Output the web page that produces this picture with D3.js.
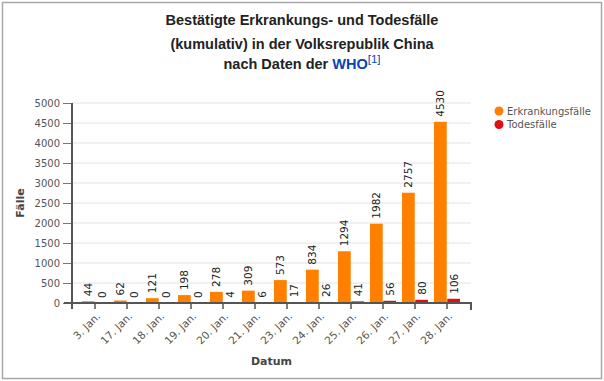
<!DOCTYPE html>
<html>
  <head>
    <meta charset="utf-8">
    <style>
      body { margin: 0; background: #fff; }
      svg text { font-family: "DejaVu Sans", sans-serif; }
    </style>
    <script src="https://unpkg.com/d3@7/dist/d3.min.js"></script>
  </head>
  <body>
    <script>
      // data
      const dates = ['3. Jan.', '17. Jan.', '18. Jan.', '19. Jan.', '20. Jan.', '21. Jan.',
                     '23. Jan.', '24. Jan.', '25. Jan.', '26. Jan.', '27. Jan.', '28. Jan.'];
      const cases = [44, 62, 121, 198, 278, 309, 573, 834, 1294, 1982, 2757, 4530];
      const deaths = [0, 0, 0, 0, 4, 6, 17, 26, 41, 56, 80, 106];
      const seriesNames = ['Erkrankungsfälle', 'Todesfälle'];
      const yTicks = [0, 500, 1000, 1500, 2000, 2500, 3000, 3500, 4000, 4500, 5000];

      const colors = ['#ff8000', '#dd1111'];
      const width = 604, height = 381;
      const axisLeftX = 72, axisRightX = 471;
      const plotTop = 103, plotBottom = 303;

      const svg = d3.select('body').append('svg')
        .attr('width', width).attr('height', height);

      // frame
      svg.append('rect')
        .attr('x', 2.5).attr('y', 2.5)
        .attr('width', 599).attr('height', 376)
        .attr('fill', 'none').attr('stroke', '#a8a8a8').attr('stroke-width', 1.5);

      // title
      const title = svg.append('text')
        .attr('text-anchor', 'middle')
        .style('font-family', '"Liberation Sans", Arial, sans-serif')
        .style('font-weight', 'bold').style('font-size', '14.5px')
        .attr('fill', '#222');
      title.append('tspan').attr('x', 302).attr('y', 25).text('Bestätigte Erkrankungs- und Todesfälle');
      title.append('tspan').attr('x', 302).attr('y', 49).text('(kumulativ) in der Volksrepublik China');
      const l3 = title.append('tspan').attr('x', 302).attr('y', 69);
      l3.append('tspan').text('nach Daten der ');
      l3.append('tspan').attr('fill', '#0645ad').text('WHO');
      l3.append('tspan').attr('fill', '#0645ad').attr('dy', -6)
        .style('font-weight', 'normal').style('font-size', '11.5px').text('[1]');

      const x = d3.scaleBand().domain(dates).range([79, 463]).padding(0);
      const inner = d3.scaleBand().domain(seriesNames).range([3, 29]).paddingInner(0.04);
      const y = d3.scaleLinear().domain([0, 5000]).range([plotBottom, plotTop]);

      // grid
      svg.append('g').selectAll('line').data(yTicks.slice(1)).join('line')
        .attr('x1', axisLeftX).attr('x2', axisRightX)
        .attr('y1', d => y(d)).attr('y2', d => y(d))
        .attr('stroke', '#e2e2e2').attr('stroke-width', 1);

      const groups = svg.append('g').selectAll('g').data(dates).join('g')
        .attr('transform', d => `translate(${x(d)},0)`);

      const rows = dates.map((d, i) => [
        { s: seriesNames[0], v: cases[i], c: colors[0] },
        { s: seriesNames[1], v: deaths[i], c: colors[1] }
      ]);

      groups.each(function (d, i) {
        const g = d3.select(this);
        g.selectAll('rect').data(rows[i]).join('rect')
          .attr('x', r => inner(r.s))
          .attr('width', inner.bandwidth())
          .attr('y', r => y(r.v))
          .attr('height', r => plotBottom - y(r.v))
          .attr('fill', r => r.c);
        g.selectAll('text').data(rows[i]).join('text')
          .attr('transform', r => `translate(${inner(r.s) + inner.bandwidth() / 2 + 4},${y(r.v) - 5}) rotate(-90)`)
          .attr('text-anchor', 'start')
          .style('font-size', '10.5px')
          .attr('fill', '#222')
          .text(r => r.v);
      });

      // y axis
      const yAxis = svg.append('g')
        .attr('transform', `translate(${axisLeftX},0)`)
        .call(d3.axisLeft(y).tickValues(yTicks).tickFormat(d3.format('d'))
          .tickSize(9).tickSizeOuter(0).tickPadding(3));
      yAxis.select('.domain').remove();
      yAxis.append('line').attr('x1', 0).attr('x2', 0).attr('y1', plotTop).attr('y2', plotBottom + 6)
        .attr('stroke', '#555').attr('stroke-width', 2);
      yAxis.selectAll('.tick line').attr('stroke', '#777');
      yAxis.selectAll('.tick text').attr('fill', '#555').style('font-size', '10px')
        .style('font-family', '"DejaVu Sans", sans-serif');

      // x axis
      const xAxis = svg.append('g')
        .attr('transform', `translate(0,${plotBottom})`)
        .call(d3.axisBottom(x).tickSize(6).tickSizeOuter(0));
      xAxis.select('.domain').remove();
      xAxis.append('path')
        .attr('d', `M${axisLeftX - 8},0H${axisRightX}V7`)
        .attr('fill', 'none').attr('stroke', '#555').attr('stroke-width', 2);
      xAxis.selectAll('.tick line').attr('stroke', '#555').attr('stroke-width', 1.5);
      xAxis.selectAll('.tick text')
        .attr('fill', '#555').style('font-size', '10.5px')
        .style('font-family', '"DejaVu Sans", sans-serif')
        .attr('text-anchor', 'end')
        .attr('dy', null).attr('y', null)
        .attr('transform', 'translate(6,14) rotate(-45)');

      // axis titles
      svg.append('text')
        .attr('transform', `translate(24,${(plotTop + plotBottom) / 2}) rotate(-90)`)
        .attr('text-anchor', 'middle')
        .style('font-weight', 'bold').style('font-size', '11px')
        .attr('fill', '#444').text('Fälle');
      svg.append('text')
        .attr('x', (axisLeftX + axisRightX) / 2).attr('y', 365)
        .attr('text-anchor', 'middle')
        .style('font-weight', 'bold').style('font-size', '11px')
        .attr('fill', '#444').text('Datum');

      // legend
      const legend = svg.append('g').selectAll('g').data(seriesNames).join('g')
        .attr('transform', (d, i) => `translate(499,${111 + i * 13.5})`);
      legend.append('circle').attr('r', 4.5).attr('fill', (d, i) => colors[i]);
      legend.append('text').attr('x', 8).attr('dy', '0.35em')
        .style('font-size', '10px').attr('fill', '#555').text(d => d);
    </script>
  </body>
</html>
